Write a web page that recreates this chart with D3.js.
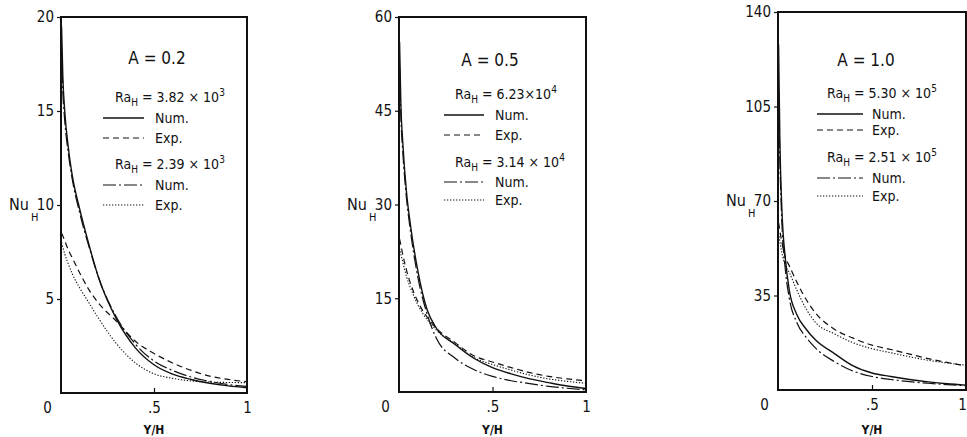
<!DOCTYPE html>
<html>
<head>
<meta charset="utf-8">
<script src="https://cdn.jsdelivr.net/npm/d3@7"></script>
<style>
  body { margin: 0; background: #fff; }
  svg text { font-family: "Liberation Sans Narrow", "DejaVu Sans Condensed", sans-serif; fill: #111; }
</style>
</head>
<body>
<svg id="chart" width="967" height="437"></svg>
<script>
// Y/H positions shared by every curve
var yh = [0.003, 0.01, 0.02, 0.04, 0.06, 0.1, 0.15, 0.2, 0.3, 0.4, 0.5, 0.6, 0.7, 0.8, 0.9, 1.0];

// A = 0.2
var nuA02Num382 = [19.5, 16.8, 15.0, 13.0, 11.6, 9.8, 7.9, 6.2, 3.9, 2.4, 1.5, 1.0, 0.72, 0.52, 0.38, 0.28];
var nuA02Exp382 = [8.5, 8.35, 8.1, 7.6, 7.2, 6.4, 5.5, 4.8, 3.8, 2.75, 2.1, 1.6, 1.2, 0.9, 0.72, 0.6];
var nuA02Num239 = [18.3, 16.0, 14.5, 12.7, 11.4, 9.6, 7.8, 6.2, 4.0, 2.6, 1.7, 1.2, 0.85, 0.62, 0.45, 0.35];
var nuA02Exp239 = [8.0, 7.75, 7.4, 6.85, 6.35, 5.6, 4.8, 4.0, 2.6, 1.6, 1.02, 0.78, 0.64, 0.58, 0.56, 0.55];

// A = 0.5
var nuA05Num623 = [56, 46, 40, 32, 27, 19.5, 13.2, 10.2, 7.6, 5.4, 3.9, 2.9, 2.1, 1.5, 0.95, 0.55];
var nuA05Exp623 = [24.5, 23.5, 22, 19.5, 17.5, 14.5, 12, 10.2, 7.9, 5.8, 4.8, 3.9, 3.1, 2.5, 2.1, 1.8];
var nuA05Num314 = [52, 44, 38.5, 31, 26, 18.5, 12.5, 8.6, 5.4, 3.6, 2.5, 1.8, 1.35, 0.9, 0.6, 0.35];
var nuA05Exp314 = [23, 22, 20.8, 18.5, 16.8, 14, 11.6, 9.9, 7.7, 5.5, 4.4, 3.5, 2.7, 2.1, 1.7, 1.4];

// A = 1.0
var nuA10Num530 = [128, 92, 68, 48, 37, 28, 22.5, 18.5, 13.5, 8.9, 6.3, 5.0, 3.9, 3.0, 2.3, 1.8];
var nuA10Exp530 = [62, 59, 55, 49, 46, 40, 33.5, 28.5, 22.5, 19.2, 16.6, 15, 13.3, 11.6, 10.2, 8.9];
var nuA10Num251 = [110, 85, 63, 44, 34, 25, 19.5, 15.5, 10.5, 7.0, 5.0, 3.9, 3.1, 2.5, 2.0, 1.6];
var nuA10Exp251 = [58, 55, 51, 46, 43.5, 37, 30, 25, 20.8, 17.5, 15.3, 13.8, 12.3, 11, 10, 9.2];

// tick labels
var xTicks = [0, 0.5, 1];
var xTickLabels = ["0", ".5", "1"];
var a02Ticks = [5, 10, 15, 20];
var a05Ticks = [15, 30, 45, 60];
var a10Ticks = [35, 70, 105, 140];

// legend text
var aspectLabels = ["A = 0.2", "A = 0.5", "A = 1.0"];
var raLabels = [["3.82 × 10", "3"], ["2.39 × 10", "3"], ["6.23×10", "4"], ["3.14 × 10", "4"], ["5.30 × 10", "5"], ["2.51 × 10", "5"]];

var dashes = { num: null, exp: "6,4", numLow: "13,3,2,3", expLow: "1.3,1.7" };

var panels = [
  { yMax: 20, ticks: a02Ticks, mid: 10, aspect: aspectLabels[0], ra: [raLabels[0], raLabels[1]],
    curves: [nuA02Num382, nuA02Exp382, nuA02Num239, nuA02Exp239],
    frame: { left: 61, right: 247, top: 17, bottom: 393 },
    leg: { ax: 157, ay: 58, rx: 115, l0: 103, l1: 144, tx: 155, rows: [97, 118, 138, 164, 185, 205] } },
  { yMax: 60, ticks: a05Ticks, mid: 30, aspect: aspectLabels[1], ra: [raLabels[2], raLabels[3]],
    curves: [nuA05Num623, nuA05Exp623, nuA05Num314, nuA05Exp314],
    frame: { left: 399, right: 586, top: 17, bottom: 392 },
    leg: { ax: 490, ay: 60, rx: 455, l0: 444, l1: 484, tx: 495, rows: [94, 115, 135, 162, 182, 200] } },
  { yMax: 140, ticks: a10Ticks, mid: 70, aspect: aspectLabels[2], ra: [raLabels[4], raLabels[5]],
    curves: [nuA10Num530, nuA10Exp530, nuA10Num251, nuA10Exp251],
    frame: { left: 778, right: 966, top: 12, bottom: 390 },
    leg: { ax: 866, ay: 60, rx: 827, l0: 817, l1: 863, tx: 872, rows: [93, 114, 130, 157, 178, 196] } }
];

var styles = [
  { dash: dashes.num, w: 1.4 },
  { dash: dashes.exp, w: 1.2 },
  { dash: dashes.numLow, w: 1.2 },
  { dash: dashes.expLow, w: 1.1 }
];

var svg = d3.select("#chart");

panels.forEach(function(p, i){
  var f = p.frame;
  var x = d3.scaleLinear().domain([0, 1]).range([f.left, f.right]);
  var y = d3.scaleLinear().domain([0, p.yMax]).range([f.bottom, f.top]);
  var g = svg.append("g");

  g.append("clipPath").attr("id", "clip" + i)
    .append("rect").attr("x", f.left).attr("y", f.top).attr("width", f.right - f.left).attr("height", f.bottom - f.top);

  // curves
  var line = d3.line().x(function(d){ return x(d[0]); }).y(function(d){ return y(d[1]); }).curve(d3.curveMonotoneX);
  p.curves.forEach(function(vals, k){
    var pts = yh.map(function(v, j){ return [v, vals[j]]; });
    g.append("path").datum(pts)
      .attr("d", line)
      .attr("clip-path", "url(#clip" + i + ")")
      .attr("fill", "none")
      .attr("stroke", "#111")
      .attr("stroke-width", styles[k].w)
      .attr("stroke-dasharray", styles[k].dash);
  });

  // y axis
  var yAxis = g.append("g").attr("transform", "translate(" + f.left + ",0)")
    .call(d3.axisLeft(y).tickValues(p.ticks).tickSize(4).tickPadding(3));
  yAxis.select(".domain").remove();
  yAxis.selectAll("text").attr("font-size", 15).style("font-family", null);
  yAxis.selectAll("line").attr("stroke", "#111").attr("stroke-width", 1.2);

  // x axis
  var xAxis = g.append("g").attr("transform", "translate(0," + f.bottom + ")")
    .call(d3.axisBottom(x).tickValues(xTicks).tickSize(-5).tickPadding(9)
      .tickFormat(function(d, j){ return xTickLabels[j]; }));
  xAxis.select(".domain").remove();
  xAxis.selectAll("text").attr("font-size", 15).style("font-family", null);
  xAxis.selectAll("line").attr("stroke", "#111").attr("stroke-width", 1.2);
  xAxis.selectAll(".tick").filter(function(d){ return d === 0; }).select("text").attr("x", -14);
  // last panel's "1" sits at the window edge, keep it inside
  if (f.right > 960) {
    xAxis.selectAll(".tick").filter(function(d){ return d === 1; }).select("text").attr("x", -4);
  }
  xAxis.selectAll(".tick").filter(function(d){ return d === 0 || d === 1; }).select("line").remove();

  // frame
  g.append("rect")
    .attr("x", f.left).attr("y", f.top)
    .attr("width", f.right - f.left).attr("height", f.bottom - f.top)
    .attr("fill", "none").attr("stroke", "#111").attr("stroke-width", 2);

  // axis titles
  var nu = g.append("text")
    .attr("x", f.left - 52).attr("y", y(p.mid) + 5)
    .attr("font-size", 16);
  nu.append("tspan").text("Nu");
  nu.append("tspan").attr("font-size", 11).attr("dx", 2).attr("dy", 11).text("H");

  g.append("text")
    .attr("x", (f.left + f.right) / 2).attr("y", 434)
    .attr("text-anchor", "middle").attr("font-size", 12).attr("font-weight", "bold")
    .text("Y/H");

  // legend
  var L = p.leg;
  g.append("text").attr("x", L.ax).attr("y", L.ay + 6)
    .attr("text-anchor", "middle").attr("font-size", 17).text(p.aspect);

  [0, 1].forEach(function(s){
    var r0 = L.rows[s * 3];
    var t = g.append("text").attr("x", L.rx).attr("y", r0 + 5).attr("font-size", 14);
    t.append("tspan").text("Ra");
    t.append("tspan").attr("font-size", 10).attr("dy", 4).text("H");
    t.append("tspan").attr("dy", -4).text(" = " + p.ra[s][0]);
    t.append("tspan").attr("font-size", 10).attr("dy", -6).text(p.ra[s][1]);

    ["Num.", "Exp."].forEach(function(lbl, m){
      var k = s * 2 + m;
      var ry = L.rows[s * 3 + 1 + m];
      g.append("line")
        .attr("x1", L.l0).attr("x2", L.l1).attr("y1", ry).attr("y2", ry)
        .attr("stroke", "#111").attr("stroke-width", styles[k].w)
        .attr("stroke-dasharray", styles[k].dash);
      g.append("text").attr("x", L.tx).attr("y", ry + 5).attr("font-size", 14).text(lbl);
    });
  });
});
</script>
</body>
</html>
